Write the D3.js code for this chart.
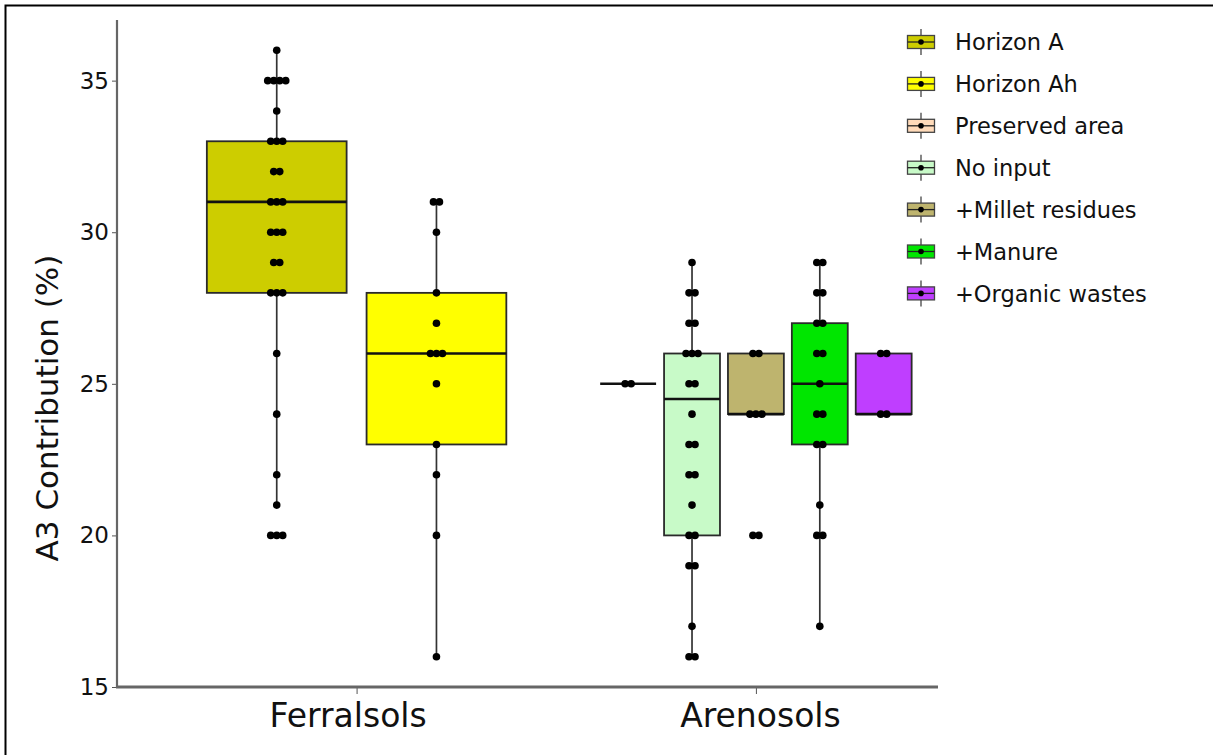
<!DOCTYPE html>
<html>
<head>
<meta charset="utf-8">
<script src="https://cdn.jsdelivr.net/npm/d3@7"></script>
<style>
  html, body { margin: 0; padding: 0; background: #fff; }
  svg { display: block; }
  text { font-family: "DejaVu Sans", Verdana, sans-serif; fill: #111; }
</style>
</head>
<body>
<svg id="chart" width="1213" height="755"></svg>
<script>
// Soil types on the x axis
const soils = ["Ferralsols", "Arenosols"];

// Treatment / horizon groups and the soil each belongs to
const groups = ["Horizon A", "Horizon Ah", "Preserved area", "No input",
                "+Millet residues", "+Manure", "+Organic wastes"];
const groupSoil = ["Ferralsols", "Ferralsols", "Arenosols", "Arenosols",
                   "Arenosols", "Arenosols", "Arenosols"];
const groupColors = ["#CDCD00", "#FFFF00", "#FFDAB9", "#C8FAC8",
                     "#BEB46E", "#00E600", "#BF3EFF"];

// Box summaries (A3 contribution, %)
const whiskerLow  = [21, 16, 25, 16,   24, 17, 24];
const q1          = [28, 23, 25, 20,   24, 23, 24];
const median      = [31, 26, 25, 24.5, 24, 25, 24];
const q3          = [33, 28, 25, 26,   26, 27, 26];
const whiskerHigh = [36, 31, 25, 29,   26, 29, 26];

// Individual observations per group
const obsHorizonA = [36, 35, 35, 35, 35, 34, 33, 33, 33, 32, 32, 31, 31, 31,
                     30, 30, 30, 29, 29, 28, 28, 28, 26, 24, 22, 21, 20, 20, 20];
const obsHorizonAh = [31, 31, 30, 28, 27, 26, 26, 26, 25, 23, 22, 20, 16];
const obsPreserved = [25, 25];
const obsNoInput = [29, 28, 28, 27, 27, 26, 26, 26, 25, 25, 24, 23, 23, 22, 22,
                    21, 20, 20, 19, 19, 17, 16, 16];
const obsMillet = [26, 26, 24, 24, 24, 20, 20];
const obsManure = [29, 29, 28, 28, 27, 27, 26, 26, 25, 24, 24, 23, 23, 21, 20, 20, 17];
const obsOrganic = [26, 26, 24, 24];
const observations = [obsHorizonA, obsHorizonAh, obsPreserved, obsNoInput,
                      obsMillet, obsManure, obsOrganic];

const yTicks = [15, 20, 25, 30, 35];
const yTitle = "A3 Contribution (%)";

// ---- layout ----
const svg = d3.select("#chart");
const plot = { left: 117, right: 938, top: 20, bottom: 687 };

// outer frame
svg.append("path")
  .attr("d", "M5.5,760 L5.5,5.5 L1220,5.5")
  .attr("fill", "none").attr("stroke", "#000").attr("stroke-width", 2);

// continuous position for discrete soils (1, 2) with side expansion
const x = d3.scaleLinear().domain([0.4, 2.456]).range([plot.left, plot.right]);
const soilPos = s => soils.indexOf(s) + 1;
const y = d3.scaleLinear().domain([15, 37]).range([plot.bottom, plot.top]);

// dodge groups within each soil
const dodgeWidth = 0.8, boxFrac = 0.875;
const boxes = groups.map((g, i) => {
  const soil = groupSoil[i];
  const members = groups.filter((_, j) => groupSoil[j] === soil);
  const k = members.indexOf(g);
  const slot = dodgeWidth / members.length;
  const center = soilPos(soil) - dodgeWidth / 2 + slot * (k + 0.5);
  return {
    name: g, color: groupColors[i], center, half: slot * boxFrac / 2,
    lo: whiskerLow[i], q1: q1[i], med: median[i], q3: q3[i], hi: whiskerHigh[i],
    obs: observations[i]
  };
});

const g = svg.append("g");

// whiskers
boxes.forEach(b => {
  const cx = x(b.center);
  g.append("line").attr("x1", cx).attr("x2", cx)
    .attr("y1", y(b.q3)).attr("y2", y(b.hi))
    .attr("stroke", "#333").attr("stroke-width", 1.7);
  g.append("line").attr("x1", cx).attr("x2", cx)
    .attr("y1", y(b.q1)).attr("y2", y(b.lo))
    .attr("stroke", "#333").attr("stroke-width", 1.7);
});

// boxes
g.selectAll("rect.box").data(boxes).join("rect")
  .attr("class", "box")
  .attr("x", d => x(d.center - d.half))
  .attr("width", d => x(d.center + d.half) - x(d.center - d.half))
  .attr("y", d => y(d.q3))
  .attr("height", d => y(d.q1) - y(d.q3))
  .attr("fill", d => d.color)
  .attr("stroke", "#2a2a2a").attr("stroke-width", 1.8);

// medians
g.selectAll("line.med").data(boxes).join("line")
  .attr("class", "med")
  .attr("x1", d => x(d.center - d.half))
  .attr("x2", d => x(d.center + d.half))
  .attr("y1", d => y(d.med)).attr("y2", d => y(d.med))
  .attr("stroke", "#111").attr("stroke-width", 2.6);

// observations: equal values are dodged side by side
const dotSpacing = 6;
boxes.forEach(b => {
  const counts = d3.rollup(b.obs, v => v.length, v => v);
  const seen = new Map();
  const pts = b.obs.map(v => {
    const n = counts.get(v);
    const k = seen.get(v) || 0;
    seen.set(v, k + 1);
    return { v, off: (k - (n - 1) / 2) * dotSpacing };
  });
  g.selectAll(null).data(pts).join("circle")
    .attr("cx", d => x(b.center) + d.off)
    .attr("cy", d => y(d.v))
    .attr("r", 3.8)
    .attr("fill", "#000");
});

// y axis
const yAxis = svg.append("g")
  .attr("transform", `translate(${plot.left},0)`)
  .call(d3.axisLeft(y).tickValues(yTicks).tickSize(5).tickPadding(3));
yAxis.select(".domain").remove();
yAxis.append("line").attr("x1", 0).attr("x2", 0)
  .attr("y1", plot.top).attr("y2", plot.bottom)
  .attr("stroke", "#666").attr("stroke-width", 2.2);
yAxis.selectAll(".tick line").attr("stroke", "#555");
yAxis.selectAll(".tick text")
  .style("font-family", "DejaVu Sans, sans-serif")
  .style("font-size", "23px").attr("fill", "#111");

// x axis
const xAxis = svg.append("g")
  .attr("transform", `translate(0,${plot.bottom})`)
  .call(d3.axisBottom(x).tickValues(soils.map((s, i) => i + 1))
    .tickFormat(d => soils[d - 1]).tickSize(7).tickPadding(10));
xAxis.select(".domain").remove();
xAxis.append("line").attr("x1", plot.left - 1).attr("x2", plot.right)
  .attr("y1", 0).attr("y2", 0)
  .attr("stroke", "#666").attr("stroke-width", 3);
xAxis.selectAll(".tick line").attr("stroke", "#555");
const xLabelShift = [-9, 4];
xAxis.selectAll(".tick text")
  .style("font-family", "DejaVu Sans, sans-serif")
  .style("font-size", "33px").attr("fill", "#111")
  .attr("dx", (d, i) => xLabelShift[i]);

// y title
svg.append("text")
  .attr("transform", `translate(58,408) rotate(-90)`)
  .attr("text-anchor", "middle")
  .style("font-size", "31px")
  .text(yTitle);

// legend
const legend = svg.append("g").attr("transform", "translate(921,0)");
boxes.forEach((b, i) => {
  const cy = 42 + i * 41.9;
  const item = legend.append("g").attr("transform", `translate(0,${cy})`);
  item.append("line").attr("x1", 0).attr("x2", 0).attr("y1", -13).attr("y2", 13)
    .attr("stroke", "#444").attr("stroke-width", 1.3);
  item.append("rect").attr("x", -13.5).attr("y", -6.5).attr("width", 27).attr("height", 13)
    .attr("fill", b.color).attr("stroke", "#444").attr("stroke-width", 1.3);
  item.append("line").attr("x1", -13.5).attr("x2", 13.5).attr("y1", 0).attr("y2", 0)
    .attr("stroke", "#222").attr("stroke-width", 1.3);
  item.append("circle").attr("r", 2.8).attr("fill", "#000");
  item.append("text").attr("x", 34).attr("y", 0).attr("dy", "0.36em")
    .style("font-size", "22.5px").text(b.name);
});
</script>
</body>
</html>
